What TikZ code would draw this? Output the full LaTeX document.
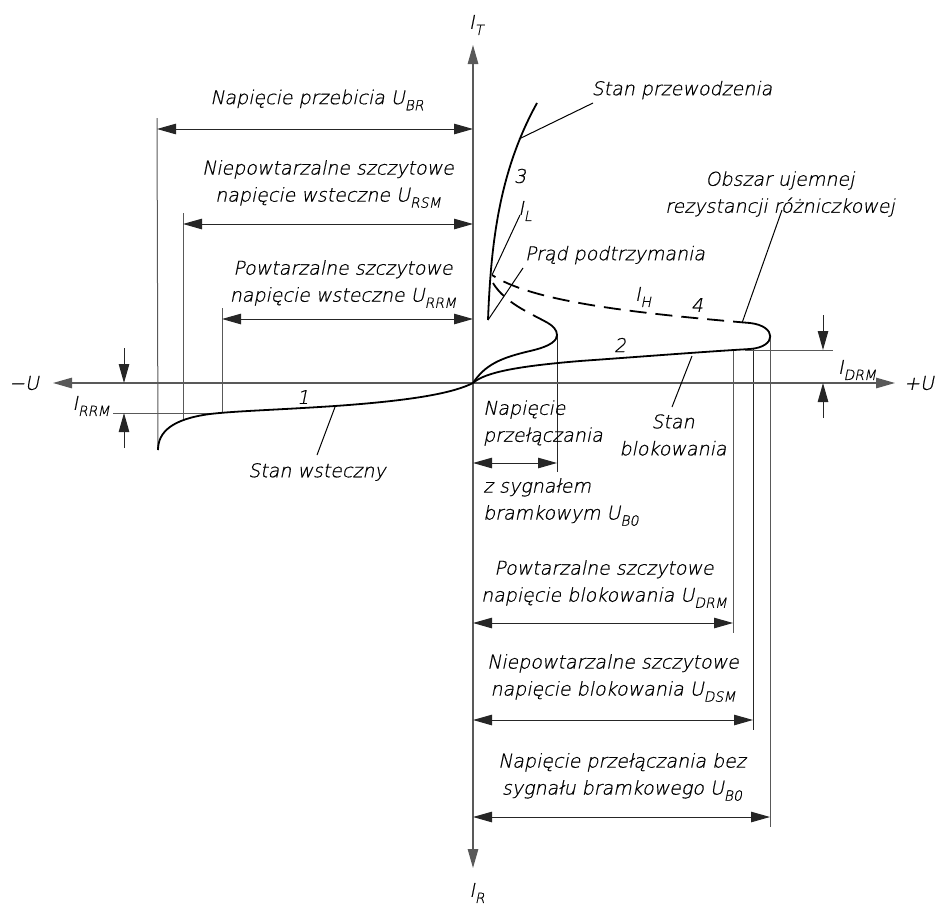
\documentclass[tikz,border=0pt]{standalone}
\usepackage{fontspec}
\setmainfont{DejaVu Sans ExtraLight}[FakeSlant=0.2,FakeBold=0.6]
\usetikzlibrary{arrows.meta}
\definecolor{axc}{gray}{0.35}
\newcommand\ssub[1]{\raisebox{-0.32em}{\fontsize{14}{14}\selectfont #1}}
\begin{document}
\begin{tikzpicture}[x=1pt,y=-1pt,
  >={Triangle[length=19pt,width=10.5pt]},
  lbl/.style={font=\fontsize{19}{27}\selectfont, inner sep=0pt, align=center},
  curve/.style={line width=1.8pt, black},
  dashcurve/.style={line width=1.8pt, black, dash pattern=on 17pt off 9pt},
  axisline/.style={line width=1.3pt, draw=axc},
  extline/.style={line width=1pt, draw=axc},
  dimline/.style={line width=1pt, draw=black!85},
  leader/.style={line width=1pt, draw=black}]
\useasboundingbox (0,0) rectangle (939,905);

% ---------- coordinates ----------
\coordinate (O) at (473,383);
\coordinate (Ytop) at (473,45);
\coordinate (Ybot) at (473,868);
\coordinate (Xl) at (53,383);
\coordinate (Xr) at (895,383);

% ---------- extension lines ----------
\draw[extline] (157,118) -- (158,450);
\draw[extline] (183,213) -- (183,420);
\draw[extline] (222,308) -- (222,413);
\draw[extline] (113,413) -- (215,413);
\draw[dimline] (557,335) -- (557,472);
\draw[extline] (733,351) -- (733,633);
\draw[dimline] (753,349) -- (753,730);
\draw[extline] (770,337) -- (770,827);
\draw[extline] (745,350) -- (833,350);

% ---------- axes ----------
\draw[axisline,<->] (Xl) -- (Xr);
\draw[axisline,<->] (Ybot) -- (Ytop);

% ---------- dimension arrows ----------
\coordinate (brl) at (157,129);  \coordinate (brr) at (473,129);
\coordinate (rsl) at (183,224);  \coordinate (rsr) at (473,224);
\coordinate (rrl) at (222,319);  \coordinate (rrr) at (473,319);
\coordinate (gtl) at (473,463);  \coordinate (gtr) at (557,463);
\coordinate (drl) at (473,623);  \coordinate (drr) at (733,623);
\coordinate (dsl) at (473,720);  \coordinate (dsr) at (753,720);
\coordinate (bol) at (473,817);  \coordinate (bor) at (770,817);
\draw[dimline,<->] (brl) -- (brr);
\draw[dimline,<->] (rsl) -- (rsr);
\draw[dimline,<->] (rrl) -- (rrr);
\draw[dimline,<->] (gtl) -- (gtr);
\draw[dimline,<->] (drl) -- (drr);
\draw[dimline,<->] (dsl) -- (dsr);
\draw[dimline,<->] (bol) -- (bor);

% I_RRM and I_DRM
\coordinate (rrmA) at (124,348); \coordinate (rrmB) at (124,383);
\coordinate (rrmC) at (124,448); \coordinate (rrmD) at (124,413);
\draw[dimline,->] (rrmA) -- (rrmB);
\draw[dimline,->] (rrmC) -- (rrmD);
\coordinate (drmA) at (823,315); \coordinate (drmB) at (823,350);
\coordinate (drmC) at (823,418); \coordinate (drmD) at (823,383);
\draw[dimline,->] (drmA) -- (drmB);
\draw[dimline,->] (drmC) -- (drmD);

% ---------- characteristic curves ----------
% 1: reverse
\draw[curve] (O) .. controls (455,392) and (420,400) .. (335,406)
  .. controls (275,410) and (235,411) .. (210,414)
  .. controls (172,419) and (158,432) .. (158,450);
% 2: blocking, with bulge and dashed return (4)
\draw[curve] (O) .. controls (485,372) and (520,366) .. (580,361)
  .. controls (650,356) and (700,352) .. (750,349)
  .. controls (777,347) and (777,326) .. (750,323);
\draw[dashcurve] (750,323) .. controls (620,312) and (530,300) .. (492,275);
% gate-triggered curve
\draw[curve] (O) .. controls (485,365) and (500,358) .. (530,351)
  .. controls (552,346) and (557,340) .. (557,335)
  .. controls (557,330) and (553,326) .. (548,323);
\draw[dashcurve] (548,323) .. controls (530,313) and (505,303) .. (493,283);
% 3: conducting
\draw[curve] (488,320) .. controls (491,240) and (500,170) .. (537,103);

% ---------- labels ----------
\node[lbl] (IT) at (476,25) {I\ssub{T}};
\node[lbl] (IR) at (477,893) {I\ssub{R}};
\node[lbl] (mU) at (24,383) {−U};
\node[lbl] (pU) at (919,383) {+U};
\node[lbl] (IRRM) at (91,406) {I\ssub{RRM}};
\node[lbl] (IDRM) at (857,370) {I\ssub{DRM}};
\node[lbl] (ubr) at (317,100) {Napięcie przebicia U\ssub{BR}};
\node[lbl] (ursm) at (328,184) {Niepowtarzalne szczytowe\\napięcie wsteczne U\ssub{RSM}};
\node[lbl] (urrm) at (343,284) {Powtarzalne szczytowe\\napięcie wsteczne U\ssub{RRM}};
\node[lbl] (one) at (303,397) {1};
\node[lbl] (two) at (620,345) {2};
\node[lbl] (three) at (520,176) {3};
\node[lbl] (four) at (697,305) {4};
\node[lbl] (IL) at (525,211) {I\ssub{L}};
\node[lbl] (IH) at (643,297) {I\ssub{H}};
\node[lbl] (sw) at (317,472) {Stan wsteczny};
\node[lbl] (sp) at (682,90) {Stan przewodzenia};
\node[lbl] (pp) at (615,255) {Prąd podtrzymania};
\node[lbl] (obs) at (780,194) {Obszar ujemnej\\rezystancji różniczkowej};
\node[lbl] (sb) at (673,435) {Stan\\blokowania};
\node[lbl, anchor=west, align=left] (nap) at (483,423) {Napięcie\\przełączania};
\node[lbl, anchor=west, align=left] (zsyg) at (483,502) {z sygnałem\\bramkowym U\ssub{B0}};
\node[lbl] (udrm) at (604,584) {Powtarzalne szczytowe\\napięcie blokowania U\ssub{DRM}};
\node[lbl] (udsm) at (613,678) {Niepowtarzalne szczytowe\\napięcie blokowania U\ssub{DSM}};
\node[lbl] (ub0) at (622,777) {Napięcie przełączania bez\\sygnału bramkowego U\ssub{B0}};

% ---------- leaders ----------
\coordinate (swA) at (317,455); \coordinate (swB) at (335,407);
\coordinate (sbA) at (672,407); \coordinate (sbB) at (692,356);
\coordinate (spA) at (593,103); \coordinate (spB) at (519,139);
\coordinate (ilA) at (520,215); \coordinate (ilB) at (492,275);
\coordinate (ppA) at (523,268); \coordinate (ppB) at (488,320);
\coordinate (obA) at (782,210); \coordinate (obB) at (742,323);
\draw[leader] (swA) -- (swB);
\draw[leader] (sbA) -- (sbB);
\draw[leader] (spA) -- (spB);
\draw[leader] (ilA) -- (ilB);
\draw[leader] (ppA) -- (ppB);
\draw[leader] (obA) -- (obB);
\end{tikzpicture}
\end{document}
